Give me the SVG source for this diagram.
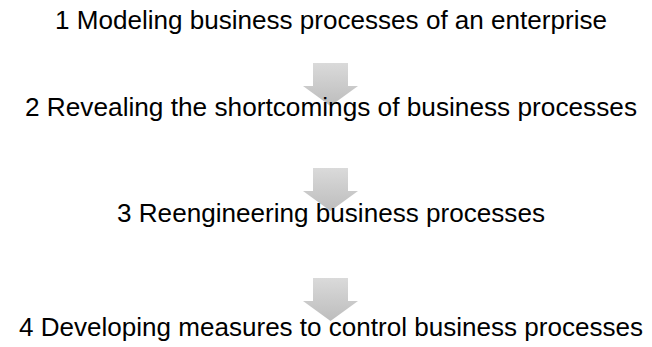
<svg xmlns="http://www.w3.org/2000/svg" width="652" height="347" viewBox="0 0 652 347">
  <style>
    .step { font-family: "Liberation Sans", Arial, sans-serif; font-size: 25px; fill: #000; text-anchor: middle; }
    .arrow { fill: url(#arrowFill); }
  </style>
  <defs>
    <linearGradient id="arrowFill" x1="0" y1="0" x2="0" y2="1">
      <stop offset="0" stop-color="#dadada"/>
      <stop offset="1" stop-color="#bdbdbd"/>
    </linearGradient>
    <!-- block arrow, origin at the top-left of the head -->
    <path id="blockArrow" d="M10,0 H45 V23 H55 L27.5,43 L0,23 H10 Z"/>
  </defs>

  <g id="connectors">
    <use href="#blockArrow" class="arrow" x="303" y="63"/>
    <use href="#blockArrow" class="arrow" x="303" y="168"/>
    <use href="#blockArrow" class="arrow" x="303" y="278"/>
  </g>

  <g id="step1"><text class="step" x="331" y="29" textLength="552" lengthAdjust="spacingAndGlyphs">1 Modeling business processes of an enterprise</text></g>
  <g id="step2"><text class="step" x="331" y="116" textLength="612" lengthAdjust="spacingAndGlyphs">2 Revealing the shortcomings of business processes</text></g>
  <g id="step3"><text class="step" x="331" y="222" textLength="428" lengthAdjust="spacingAndGlyphs">3 Reengineering business processes</text></g>
  <g id="step4"><text class="step" x="331" y="336" textLength="624" lengthAdjust="spacingAndGlyphs">4 Developing measures to control business processes</text></g>
</svg>
